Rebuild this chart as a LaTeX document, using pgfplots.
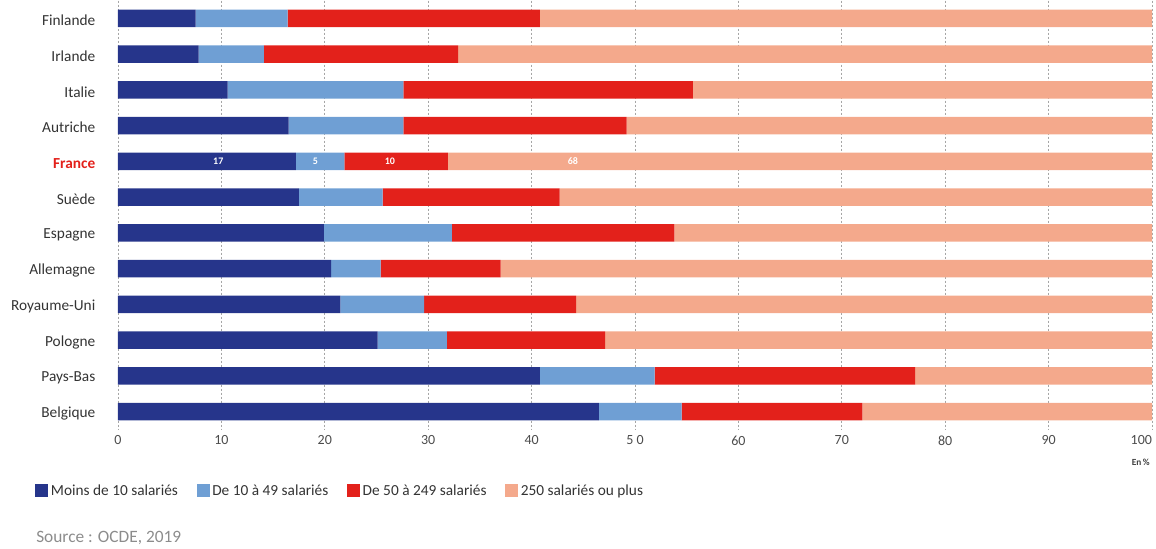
\documentclass[border=0pt]{standalone}
\usepackage{pgfplots}
\pgfplotsset{compat=1.18}
\usepackage{fontspec}
\setmainfont{Carlito}
\definecolor{c1}{HTML}{26358B}
\definecolor{c2}{HTML}{6F9FD4}
\definecolor{c3}{HTML}{E3211B}
\definecolor{c4}{HTML}{F4A98C}
\definecolor{lab}{HTML}{333333}
\begin{document}
\begin{tikzpicture}
\begin{axis}[
  at={(0,0)}, anchor=south west,
  scale only axis, width=775.5pt, height=321.75pt,
  xbar stacked, bar width=13.1pt,
  xmin=0, xmax=100, ymin=-0.5, ymax=11.5, y dir=reverse,
  xtick={0,10,...,100},
  xticklabels={0,10,20,30,40,5 0,60,70,80,90,{\makebox[0pt][r]{100}}},
  ytick={0,...,11},
  yticklabels={Finlande, Irlande, Italie, Autriche, {\color{c3}\bfseries France}, Suède, Espagne, Allemagne, Royaume-Uni, Pologne, Pays-Bas, Belgique},
  axis line style={draw=none},
  major tick length=0pt,
  xmajorgrids,
  major grid style={black!35, dash pattern=on 1.5pt off 1.5pt, line width=0.6pt},
  /pgf/number format/assume math mode=true,
  x tick label style={font=\fontsize{10.5}{12}\selectfont, text=black!70, yshift=-1pt},
  y tick label style={font=\fontsize{11.5}{13}\selectfont, text=lab, anchor=east, xshift=-13.5pt, yshift=-1.5pt},
  legend columns=4,
  legend image code/.code={\fill[#1] (0pt,-4.875pt) rectangle (9.75pt,4.875pt);},
  legend style={at={(axis description cs:-0.0803,-0.143)}, anchor=west, draw=none, fill=none,
    inner sep=0pt, font=\fontsize{11.5}{13}\selectfont, text=lab,
    /tikz/every even column/.append style={column sep=12pt}},
]
\addplot[fill=c1, draw=none] coordinates {(7.5,0) (7.8,1) (10.6,2) (16.5,3) (17.2,4) (17.5,5) (19.9,6) (20.6,7) (21.5,8) (25.1,9) (40.8,10) (46.5,11)};
\addlegendentry{Moins de 10 salariés}
\addplot[fill=c2, draw=none] coordinates {(8.9,0) (6.3,1) (17.0,2) (11.1,3) (4.7,4) (8.1,5) (12.4,6) (4.8,7) (8.1,8) (6.7,9) (11.1,10) (8.0,11)};
\addlegendentry{De 10 à 49 salariés}
\addplot[fill=c3, draw=none] coordinates {(24.4,0) (18.8,1) (28.0,2) (21.6,3) (10.0,4) (17.1,5) (21.5,6) (11.6,7) (14.7,8) (15.3,9) (25.2,10) (17.5,11)};
\addlegendentry{De 50 à 249 salariés}
\addplot[fill=c4, draw=none] coordinates {(59.2,0) (67.1,1) (44.4,2) (50.8,3) (68.1,4) (57.3,5) (46.2,6) (63.0,7) (55.7,8) (52.9,9) (22.9,10) (28.0,11)};
\addlegendentry{250 salariés ou plus}
\coordinate (l1) at (axis cs:9.7,4);
\coordinate (l2) at (axis cs:19.1,4);
\coordinate (l3) at (axis cs:26.3,4);
\coordinate (l4) at (axis cs:44.0,4);
\end{axis}
\foreach \p/\t in {l1/17,l2/5,l3/10,l4/68}
  \node[font=\fontsize{7.5}{8}\selectfont\bfseries, text=white, inner sep=0pt] at (\p) {\t};
\node[anchor=east, inner sep=0pt, font=\fontsize{7}{8}\selectfont\bfseries, text=black!75] at (774pt,-24.3pt) {En\,\%};
\node[anchor=west, inner sep=0pt, font=\fontsize{13}{15}\selectfont, text=black!45] at (-61.5pt,-81.3pt) {Source : OCDE, 2019};
\pgfresetboundingbox
\path (-88.5pt,-89.55pt) rectangle (778.5pt,322.2pt);
\end{tikzpicture}
\end{document}
